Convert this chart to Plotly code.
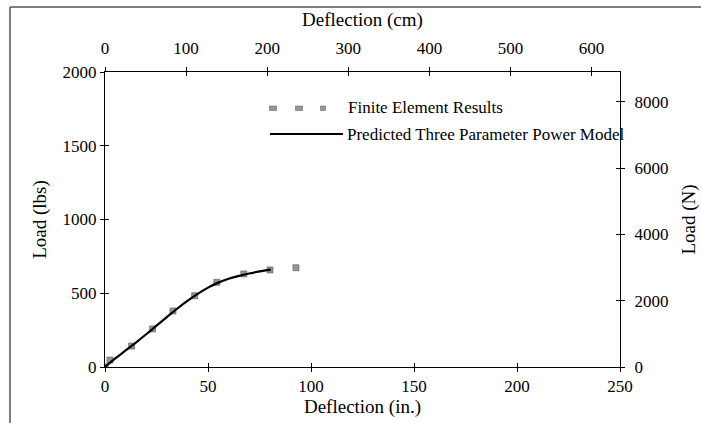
import plotly.graph_objects as go

# Finite element results (deflection in., load lbs)
fe_defl = [0, 2.4, 12.9, 23.1, 33.0, 43.5, 54.3, 67.4, 80.1, 92.7]
fe_load = [0, 47, 142, 258, 380, 483, 574, 631, 658, 673]

# Predicted three parameter power model
pm_defl = [0, 5, 10, 15, 20, 25, 30, 35, 40, 45, 50, 55, 60, 65, 70, 75, 80.5]
pm_load = [0, 58, 112, 166, 222, 280, 338, 395, 448, 496, 538, 572, 598, 618, 634, 648, 660]

x_ticks_in = [0, 50, 100, 150, 200, 250]
x_ticks_cm = [0, 100, 200, 300, 400, 500, 600]
y_ticks_lbs = [0, 500, 1000, 1500, 2000]
y_ticks_n = [0, 2000, 4000, 6000, 8000]

legend_labels = ["Finite Element Results", "Predicted Three Parameter Power Model"]

FONT = "Liberation Serif"
W, H = 701, 423
L, R, T, B = 105, 81, 72, 56
PW, PH = W - L - R, H - T - B
IN_RANGE, CM_RANGE = [0, 250], [0, 635]
LBS_RANGE, N_RANGE = [0, 2000], [0, 8896]


def px(xp):
    return (xp - L) / PW


def py(yp):
    return (H - B - yp) / PH


MARK = "#969696"

fig = go.Figure()
fig.add_trace(go.Scatter(
    x=fe_defl, y=fe_load, mode="markers", name=legend_labels[0],
    marker=dict(symbol="square", size=6, color=MARK,
                line=dict(color="#555555", width=0.6)),
    showlegend=False,
))
fig.add_trace(go.Scatter(
    x=pm_defl, y=pm_load, mode="lines", name=legend_labels[1],
    line=dict(color="black", width=2.2, shape="spline"),
    showlegend=False,
))
# invisible traces on secondary axes so they render
for xa, ya, xr, yr in [("x2", "y2", CM_RANGE, N_RANGE),
                       ("x3", "y3", IN_RANGE, LBS_RANGE),
                       ("x4", "y4", CM_RANGE, N_RANGE)]:
    fig.add_trace(go.Scatter(
        x=xr, y=yr, xaxis=xa, yaxis=ya, mode="markers",
        marker=dict(opacity=0), showlegend=False, hoverinfo="skip",
    ))

axis_common = dict(
    showgrid=False, zeroline=False, showline=True, linecolor="black", linewidth=1,
    ticks="outside", ticklen=4, tickcolor="black", automargin=False,
    tickfont=dict(family=FONT, size=17, color="black"),
)
inner_common = dict(
    showgrid=False, zeroline=False, showline=False, ticks="inside", ticklen=4,
    tickcolor="black", showticklabels=False, automargin=False,
)

shapes = [
    # outer chart frame (top and left edges)
    dict(type="line", xref="paper", yref="paper",
         x0=px(10), x1=px(W), y0=py(7), y1=py(7),
         line=dict(color="#555", width=1.5)),
    dict(type="line", xref="paper", yref="paper",
         x0=px(10), x1=px(10), y0=py(7), y1=py(H),
         line=dict(color="#555", width=1.5)),
    # legend samples
    dict(type="line", xref="paper", yref="paper",
         x0=px(270), x1=px(343), y0=py(134), y1=py(134),
         line=dict(color="black", width=2)),
]
for cx, w in [(273, 7), (299, 7), (323, 5)]:
    shapes.append(dict(type="rect", xref="paper", yref="paper",
                       x0=px(cx - w / 2), x1=px(cx + w / 2),
                       y0=py(110.5), y1=py(106),
                       fillcolor=MARK, line=dict(color="#555555", width=0.5)))

annotations = [
    dict(text=legend_labels[0], xref="paper", yref="paper", x=px(346), y=py(108),
         xanchor="left", yanchor="middle", showarrow=False,
         font=dict(family=FONT, size=17, color="black")),
    dict(text=legend_labels[1], xref="paper", yref="paper", x=px(345), y=py(134),
         xanchor="left", yanchor="middle", showarrow=False,
         font=dict(family=FONT, size=17, color="black")),
]

fig.update_layout(
    width=W, height=H,
    margin=dict(l=L, r=R, t=T, b=B),
    paper_bgcolor="white", plot_bgcolor="white",
    font=dict(family=FONT, color="black"),
    xaxis=dict(range=IN_RANGE, tickvals=x_ticks_in,
               title=dict(text="Deflection (in.)", font=dict(size=19), standoff=2),
               **axis_common),
    xaxis2=dict(range=CM_RANGE, tickvals=x_ticks_cm, overlaying="x", side="top",
                ticklabelstandoff=6,
                title=dict(text="Deflection (cm)", font=dict(size=19), standoff=7),
                **axis_common),
    yaxis=dict(range=LBS_RANGE, tickvals=y_ticks_lbs,
               title=dict(text="Load (lbs)", font=dict(size=19), standoff=10),
               **axis_common),
    yaxis2=dict(range=N_RANGE, tickvals=y_ticks_n, overlaying="y", side="right",
                ticklabelstandoff=6,
                title=dict(text="Load (N)", font=dict(size=19), standoff=14),
                **axis_common),
    # inner halves of the crossing tick marks
    xaxis3=dict(range=IN_RANGE, tickvals=x_ticks_in, overlaying="x", side="bottom",
                **inner_common),
    yaxis3=dict(range=LBS_RANGE, tickvals=y_ticks_lbs, overlaying="y", side="left",
                **inner_common),
    xaxis4=dict(range=CM_RANGE, tickvals=x_ticks_cm, overlaying="x", side="top",
                **inner_common),
    yaxis4=dict(range=N_RANGE, tickvals=y_ticks_n, overlaying="y", side="right",
                **inner_common),
    showlegend=False,
    shapes=shapes,
    annotations=annotations,
)

fig.write_html("out.html", config={"displayModeBar": False},
               post_script="document.body.style.margin='0';")
